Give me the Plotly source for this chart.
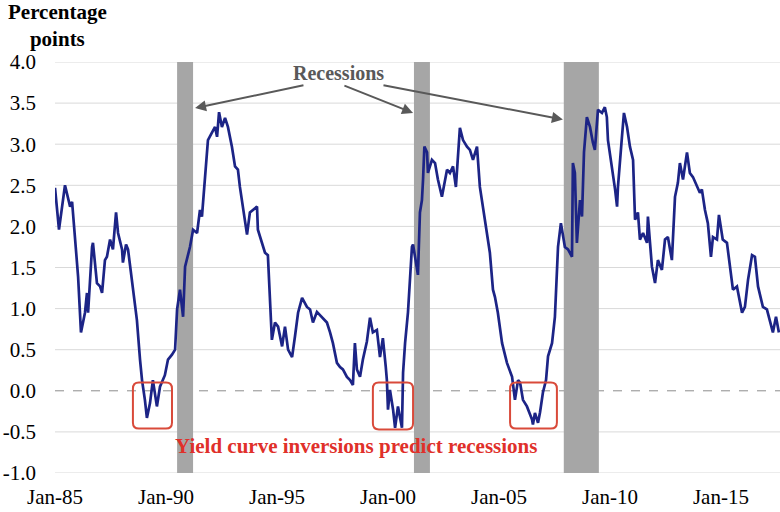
import plotly.graph_objects as go

# ---- data ----
years = [1985.00,1985.09,1985.18,1985.45,1985.68,1985.77,1985.99,1986.04,1986.17,1986.35,1986.44,1986.49,
         1986.67,1986.71,1986.89,1987.03,1987.12,1987.25,1987.34,1987.48,1987.61,1987.75,1987.84,1988.02,
         1988.06,1988.20,1988.29,1988.47,1988.69,1988.83,1988.92,1989.05,1989.14,1989.28,1989.41,1989.59,
         1989.73,1989.95,1990.09,1990.27,1990.41,1990.50,1990.63,1990.77,1990.86,1991.08,1991.22,1991.40,
         1991.53,1991.62,1991.76,1991.82,1991.89,1992.07,1992.21,1992.30,1992.39,1992.52,1992.66,1992.79,
         1992.97,1993.11,1993.24,1993.33,1993.42,1993.56,1993.65,1993.78,1993.92,1994.10,1994.14,1994.32,
         1994.46,1994.59,1994.77,1994.91,1995.05,1995.23,1995.36,1995.50,1995.68,1995.81,1995.95,1996.13,
         1996.35,1996.49,1996.62,1996.80,1997.03,1997.25,1997.39,1997.52,1997.70,1997.84,1997.97,1998.15,
         1998.29,1998.42,1998.51,1998.60,1998.74,1998.87,1999.05,1999.19,1999.32,1999.50,1999.64,1999.77,
         1999.90,1999.95,2000.00,2000.09,2000.23,2000.32,2000.45,2000.63,2000.68,2000.77,2000.90,2001.08,
         2001.13,2001.31,2001.35,2001.44,2001.53,2001.58,2001.64,2001.76,2001.80,2001.98,2002.12,2002.25,
         2002.43,2002.66,2002.79,2002.93,2003.06,2003.24,2003.38,2003.56,2003.69,2003.83,2004.01,2004.14,
         2004.28,2004.46,2004.59,2004.73,2004.82,2004.95,2005.14,2005.36,2005.59,2005.72,2005.86,2005.95,
         2006.08,2006.26,2006.49,2006.53,2006.62,2006.76,2006.85,2006.98,2007.12,2007.21,2007.39,2007.52,
         2007.61,2007.66,2007.79,2007.97,2008.11,2008.29,2008.33,2008.42,2008.51,2008.65,2008.74,2008.83,
         2008.96,2009.10,2009.23,2009.32,2009.46,2009.64,2009.77,2009.86,2009.91,2010.09,2010.23,2010.32,
         2010.36,2010.54,2010.63,2010.77,2010.90,2011.04,2011.13,2011.26,2011.35,2011.49,2011.67,2011.71,
         2011.89,2012.03,2012.16,2012.34,2012.48,2012.61,2012.79,2012.93,2013.06,2013.15,2013.29,2013.47,
         2013.60,2013.74,2013.92,2014.05,2014.14,2014.28,2014.41,2014.55,2014.64,2014.82,2014.91,2015.08,
         2015.27,2015.41,2015.54,2015.72,2015.95,2016.08,2016.22,2016.40,2016.53,2016.67,2016.89,2017.07,
         2017.21,2017.34,2017.48,2017.61]
spread = [2.47,2.24,1.96,2.50,2.24,2.30,1.47,1.39,0.71,0.95,1.19,0.95,
          1.75,1.80,1.31,1.27,1.19,1.59,1.63,1.84,1.72,2.17,1.92,1.72,
          1.56,1.78,1.72,1.35,0.86,0.38,0.13,-0.11,-0.33,-0.15,0.13,-0.19,
          0.05,0.19,0.38,0.44,0.50,0.99,1.23,0.90,1.51,1.75,1.96,1.92,
          2.20,2.12,2.57,2.80,3.05,3.14,3.21,3.09,3.39,3.21,3.32,3.21,
          2.97,2.73,2.69,2.48,2.32,2.08,1.90,2.17,2.20,2.24,1.96,1.80,
          1.68,1.65,0.62,0.83,0.78,0.54,0.78,0.50,0.41,0.66,0.95,1.13,
          1.02,0.99,0.83,0.96,0.90,0.83,0.71,0.58,0.34,0.29,0.26,0.17,
          0.13,0.07,0.58,0.26,0.17,0.38,0.60,0.89,0.71,0.74,0.41,0.64,
          0.29,0.13,-0.23,0.01,-0.23,-0.45,-0.19,-0.45,0.22,0.58,0.95,1.75,
          1.78,1.47,1.41,2.17,2.32,2.57,2.97,2.90,2.65,2.81,2.77,2.57,
          2.36,2.69,2.65,2.73,2.48,3.20,3.05,2.97,2.93,2.81,2.97,2.48,
          2.24,1.96,1.68,1.23,1.14,0.95,0.58,0.34,0.17,-0.11,0.13,0.10,
          -0.11,-0.19,-0.35,-0.41,-0.27,-0.39,-0.26,-0.02,0.13,0.42,0.58,0.90,
          1.35,1.75,2.04,1.75,1.72,1.63,2.77,2.65,1.80,2.32,2.12,2.90,
          3.33,3.21,3.02,2.93,3.42,3.38,3.45,3.33,3.05,2.73,2.45,2.24,
          2.48,3.09,3.38,3.21,2.97,2.81,2.08,2.17,1.84,1.92,1.80,2.12,
          1.51,1.31,1.59,1.47,1.84,1.87,1.59,2.36,2.53,2.77,2.57,2.90,
          2.65,2.60,2.48,2.41,2.45,2.20,2.04,1.63,1.87,1.84,2.14,1.84,
          1.80,1.51,1.23,1.27,0.95,1.02,1.35,1.65,1.63,1.27,1.02,0.99,
          0.86,0.71,0.90,0.71]

recession_start = [1990.50, 2001.17, 2007.92]
recession_end = [1991.22, 2001.89, 2009.50]

ytick_vals = [-1.0, -0.5, 0.0, 0.5, 1.0, 1.5, 2.0, 2.5, 3.0, 3.5, 4.0]
ytick_text = ["-1.0", "-0.5", "0.0", "0.5", "1.0", "1.5", "2.0", "2.5", "3.0", "3.5", "4.0"]
xtick_vals = [1985, 1990, 1995, 2000, 2005, 2010, 2015]
xtick_text = ["Jan-85", "Jan-90", "Jan-95", "Jan-00", "Jan-05", "Jan-10", "Jan-15"]

# inversion boxes: (x0, x1, y0, y1)
boxes = [(1988.51, 1990.27, -0.46, 0.10),
         (1999.32, 2001.13, -0.47, 0.10),
         (2005.50, 2007.61, -0.46, 0.10)]

# arrows (tail x, tail y, head x, head y)
arrows = [(1996.26, 3.72, 1991.31, 3.44),
          (1997.97, 3.72, 2001.13, 3.38),
          (1999.73, 3.72, 2007.88, 3.30)]

SERIF = "Liberation Serif, Times New Roman, serif"

fig = go.Figure()
fig.add_trace(go.Scatter(x=years, y=spread, mode="lines",
                         line=dict(color="#1c2486", width=2.7), showlegend=False))

shapes = []
# grid lines
for v in ytick_vals:
    if v == 0:
        continue
    shapes.append(dict(type="line", xref="paper", x0=0, x1=1, yref="y", y0=v, y1=v,
                       line=dict(color="#d9d9d9", width=1), layer="below"))
# recession bars
for s, e in zip(recession_start, recession_end):
    shapes.append(dict(type="rect", xref="x", x0=s, x1=e, yref="y", y0=-1, y1=4,
                       fillcolor="#a6a6a6", line=dict(width=0), layer="below"))
# zero dashed line
shapes.append(dict(type="line", xref="paper", x0=0, x1=1, yref="y", y0=0, y1=0,
                   line=dict(color="#8c8c8c", width=1, dash="dash"), layer="below"))
# rounded red boxes
rx, ry = 0.27, 0.075
for x0, x1, y0, y1 in boxes:
    path = (f"M {x0+rx},{y0} L {x1-rx},{y0} Q {x1},{y0} {x1},{y0+ry} "
            f"L {x1},{y1-ry} Q {x1},{y1} {x1-rx},{y1} L {x0+rx},{y1} "
            f"Q {x0},{y1} {x0},{y1-ry} L {x0},{y0+ry} Q {x0},{y0} {x0+rx},{y0} Z")
    shapes.append(dict(type="path", path=path, xref="x", yref="y",
                       line=dict(color="#d94a3a", width=2)))

annotations = []
for tx, ty, hx, hy in arrows:
    annotations.append(dict(x=hx, y=hy, ax=tx, ay=ty, xref="x", yref="y", axref="x", ayref="y",
                            text="", showarrow=True, arrowhead=2, arrowsize=1.1, arrowwidth=2,
                            arrowcolor="#595959"))
annotations.append(dict(x=1997.75, y=3.87, xref="x", yref="y", text="<b>Recessions</b>",
                        showarrow=False, font=dict(family=SERIF, size=20, color="#595959")))
annotations.append(dict(x=1998.56, y=-0.67, xref="x", yref="y",
                        text="<b>Yield curve inversions predict recessions</b>",
                        showarrow=False, font=dict(family=SERIF, size=21, color="#e0302a")))
annotations.append(dict(x=0.003, y=1.088, xref="paper", yref="paper",
                        text="<b>Percentage<br>points</b>", showarrow=False,
                        xanchor="center", yanchor="middle", align="center",
                        font=dict(family=SERIF, size=21, color="#000000")))

fig.update_layout(
    width=780, height=512,
    margin=dict(l=55, r=0, t=62, b=39),
    paper_bgcolor="white", plot_bgcolor="white",
    shapes=shapes, annotations=annotations,
    xaxis=dict(range=[1985, 2017.66], tickvals=xtick_vals, ticktext=xtick_text,
               showgrid=False, zeroline=False, showline=False, ticks="",
               tickfont=dict(family=SERIF, size=21, color="#000000"), ticklabelstandoff=9),
    yaxis=dict(range=[-1, 4], tickvals=ytick_vals, ticktext=ytick_text,
               showgrid=False, zeroline=False, showline=False, ticks="",
               tickfont=dict(family=SERIF, size=21, color="#000000"), ticklabelstandoff=18),
)

fig.write_html("out.html")
